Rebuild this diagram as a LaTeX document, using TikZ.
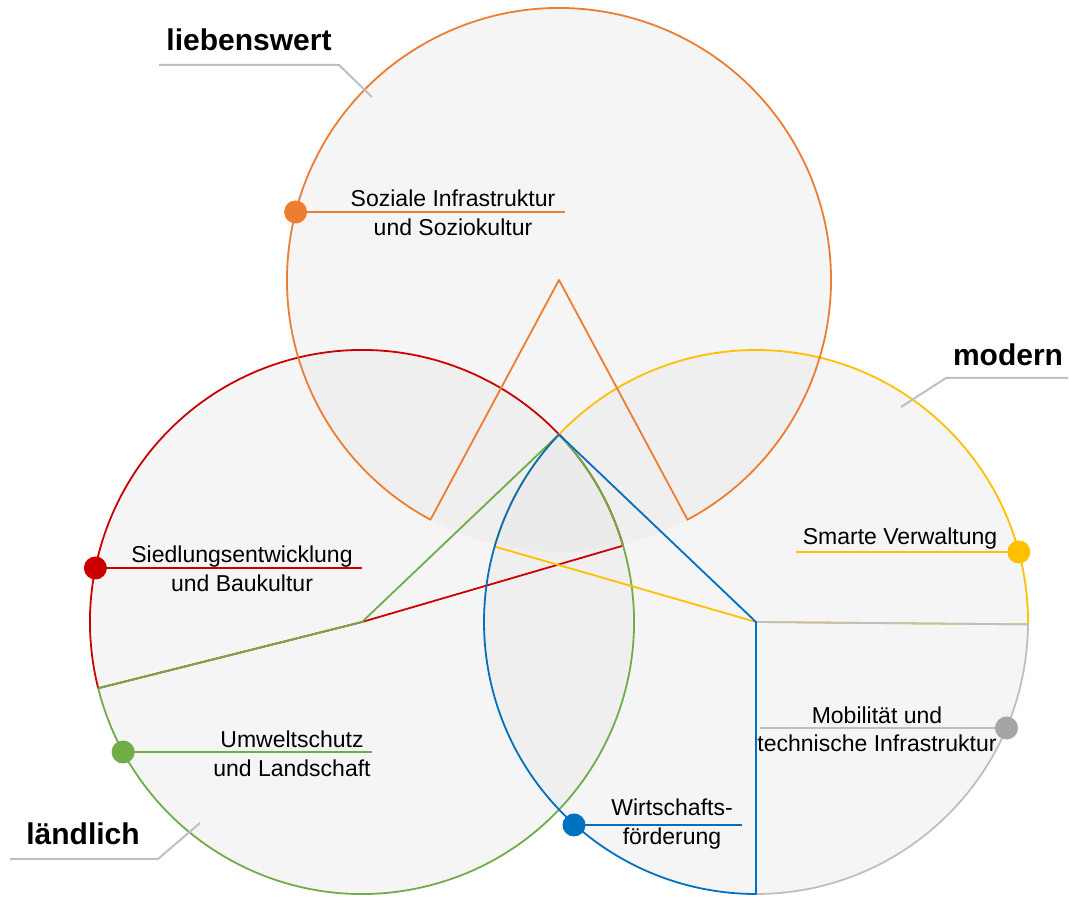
\documentclass[tikz,border=0pt]{standalone}
\usepackage{fontspec}
\setmainfont{Liberation Sans}
\definecolor{cOrange}{HTML}{ED7D31}
\definecolor{cRed}{HTML}{CC0000}
\definecolor{cGreen}{HTML}{70AD47}
\definecolor{cBlue}{HTML}{0070C0}
\definecolor{cYellow}{HTML}{FFC000}
\definecolor{cGray}{HTML}{A5A5A5}
\definecolor{cLine}{HTML}{BFBFBF}
\begin{document}
\begin{tikzpicture}[x=1pt,y=1pt,
  disc/.style={fill=black!11, fill opacity=0.35},
  seg/.style={line width=1.8pt, line join=round},
  hline/.style={line width=2pt},
  dot/.style={circle, fill=#1, inner sep=0pt, minimum size=23pt},
  lab/.style={font=\fontsize{23}{28.5}\selectfont, align=center, text=black},
  ttl/.style={font=\fontsize{30}{36}\selectfont\bfseries, text=black},
  callout/.style={draw=cLine, line width=2pt}]
\useasboundingbox (0,0) rectangle (1069,897);
\coordinate (T) at (559,617);
\coordinate (L) at (362,275);
\coordinate (R) at (756,275);
\def\rr{272}
% fills
\fill[disc] (T) circle[radius=\rr];
\fill[disc] (L) circle[radius=\rr];
\fill[disc] (R) circle[radius=\rr];
% sectors
\draw[seg, cRed] (L) -- ++(16.3:\rr) arc[start angle=16.3, end angle=194.1, radius=\rr] -- cycle;
\draw[seg, cGreen] (L) -- ++(194.1:\rr) arc[start angle=194.1, end angle=403.6, radius=\rr] -- cycle;
\draw[seg, cYellow] (R) -- ++(-0.5:\rr) arc[start angle=-0.5, end angle=163.9, radius=\rr] -- cycle;
\draw[seg, cLine] (R) -- ++(270:\rr) arc[start angle=270, end angle=359.5, radius=\rr] -- cycle;
\draw[seg, cBlue] (R) -- ++(136.4:\rr) arc[start angle=136.4, end angle=270, radius=\rr] -- cycle;
\draw[seg, cOrange] (T) -- ++(-61.8:\rr) arc[start angle=-61.8, end angle=241.8, radius=\rr] -- cycle;
% label points (on the circles)
\coordinate (dO) at (295.6,685);
\coordinate (dR) at (95.4,329);
\coordinate (dG) at (123.1,145);
\coordinate (dB) at (574,72);
\coordinate (dY) at (1018.8,345);
\coordinate (dA) at (1006.5,169);
\coordinate (eO) at (565,685);
\coordinate (eR) at (362,329);
\coordinate (eG) at (372,145);
\coordinate (eB) at (742,72);
\coordinate (eY) at (796,345);
\coordinate (eA) at (760,169);
\draw[hline, cOrange] (dO) -- (eO);
\draw[hline, cRed] (dR) -- (eR);
\draw[hline, cGreen] (dG) -- (eG);
\draw[hline, cBlue] (dB) -- (eB);
\draw[hline, cYellow] (dY) -- (eY);
\draw[hline, cLine] (dA) -- (eA);
\node[dot=cOrange] (pO) at (dO) {};
\node[dot=cRed] (pR) at (dR) {};
\node[dot=cGreen] (pG) at (dG) {};
\node[dot=cBlue] (pB) at (dB) {};
\node[dot=cYellow] (pY) at (dY) {};
\node[dot=cGray] (pA) at (dA) {};
% labels
\node[lab] (tO) at (453,684) {Soziale Infrastruktur\\und Soziokultur};
\node[lab] (tR) at (242,328) {Siedlungsentwicklung\\und Baukultur};
\node[lab] (tG) at (292,143) {Umweltschutz\\und Landschaft};
\node[lab] (tB) at (672,73) {Wirtschafts-\\förderung};
\node[lab] (tY) at (900,358) {Smarte Verwaltung};
\node[lab] (tA) at (877,167.5) {Mobilität und\\technische Infrastruktur};
% titles
\node[ttl] (hT) at (249,857) {liebenswert};
\node[ttl] (hR) at (1008,542) {modern};
\node[ttl] (hL) at (83,63.5) {ländlich};
\coordinate (a1) at (159,832); \coordinate (a2) at (339,832); \coordinate (a3) at (372,800);
\coordinate (b1) at (1068,519); \coordinate (b2) at (946,519); \coordinate (b3) at (901,490);
\coordinate (c1) at (10,38); \coordinate (c2) at (158,38); \coordinate (c3) at (200,74);
\draw[callout] (a1) -- (a2) -- (a3);
\draw[callout] (b1) -- (b2) -- (b3);
\draw[callout] (c1) -- (c2) -- (c3);
\end{tikzpicture}
\end{document}
